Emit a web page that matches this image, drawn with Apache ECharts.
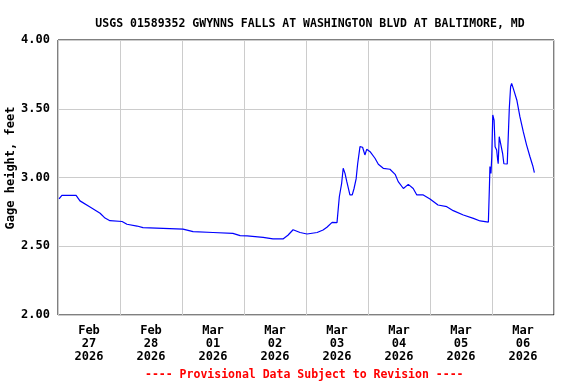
<!DOCTYPE html>
<html><head><meta charset="utf-8">
<script src="https://cdn.jsdelivr.net/npm/echarts@6/dist/echarts.min.js"></script>
<style>html,body{margin:0;padding:0;background:#fff}#c{width:576px;height:384px}</style>
</head><body><div id="c"></div>
<script>
// hours since Feb 27 2026 00:00
var hours = [0.4,1.5,7.0,8.5,12.4,16.3,18.2,20.1,24.8,26.7,30.6,32.9,48.4,52.3,60.0,67.7,70.5,73.2,79.4,83.2,87.1,89.0,91.0,93.7,96.4,100.3,102.6,104.1,106.1,108.0,108.2,108.9,109.8,110.4,111.1,111.8,113.0,113.9,114.6,115.4,116.0,116.9,117.9,118.8,119.5,120.8,122.7,124.0,125.9,128.5,130.5,131.7,133.7,135.6,137.5,138.9,141.4,144.0,147.1,150.5,153.0,156.9,160.8,163.4,166.6,167.0,167.2,167.6,167.9,168.3,168.8,169.2,169.8,170.2,170.4,170.8,171.4,172.1,172.6,173.9,174.3,174.7,175.2,175.6,176.2,177.6,178.8,180.1,181.4,182.7,183.8,184.4];
var gage = [2.844,2.87,2.87,2.83,2.785,2.74,2.705,2.686,2.68,2.66,2.647,2.635,2.625,2.606,2.60,2.594,2.577,2.575,2.565,2.553,2.553,2.58,2.62,2.60,2.589,2.60,2.618,2.638,2.674,2.672,2.66,2.86,2.958,3.067,3.03,2.97,2.873,2.873,2.92,2.99,3.10,3.224,3.22,3.164,3.205,3.188,3.14,3.096,3.067,3.06,3.023,2.97,2.92,2.95,2.92,2.873,2.873,2.844,2.80,2.788,2.759,2.727,2.703,2.684,2.676,2.933,3.079,3.03,3.147,3.455,3.418,3.224,3.20,3.127,3.10,3.297,3.285,3.176,3.10,3.098,3.108,3.503,3.66,3.685,3.65,3.564,3.442,3.333,3.236,3.151,3.084,3.035];
var dayLabels = ["Feb\n27\n2026","Feb\n28\n2026","Mar\n01\n2026","Mar\n02\n2026","Mar\n03\n2026","Mar\n04\n2026","Mar\n05\n2026","Mar\n06\n2026"];
var yTicks = [2.0,2.5,3.0,3.5,4.0];

var font = "'DejaVu Sans Mono', monospace";
var chart = echarts.init(document.getElementById('c'), null, {renderer:'canvas'});
var series = hours.map(function(h,i){return [h,gage[i]];});
chart.setOption({
  animation:false,
  backgroundColor:'#fff',
  title:{text:'USGS 01589352 GWYNNS FALLS AT WASHINGTON BLVD AT BALTIMORE, MD',left:305,top:13,textAlign:'center',
    textStyle:{fontFamily:font,fontWeight:'bold',fontSize:11.5,color:'#000'}},
  graphic:[
    {type:'text',left:145,top:369,style:{text:'---- Provisional Data Subject to Revision ----',
      fill:'#ff0000',font:"bold 11.5px 'DejaVu Sans Mono', monospace"}},
    {type:'text',x:11,y:168,rotation:Math.PI/2,style:{text:'Gage height, feet',align:'center',verticalAlign:'middle',
      fill:'#000',font:"bold 12px 'DejaVu Sans Mono', monospace"}}
  ],
  grid:{left:58,right:22,top:40,bottom:69,show:true,borderColor:'#000',borderWidth:1,outerBoundsMode:'none',containLabel:false},
  xAxis:[{type:'value',min:0,max:192,interval:24,
      axisLine:{show:false},axisTick:{show:false},axisLabel:{show:false},
      splitLine:{show:true,lineStyle:{color:'#cccccc',width:1}}},
    {type:'category',data:dayLabels,position:'bottom',boundaryGap:true,
      axisLine:{show:false},axisTick:{show:false},splitLine:{show:false},
      axisLabel:{margin:9,lineHeight:13,fontFamily:font,fontWeight:'bold',fontSize:12,color:'#000',interval:0}}],
  yAxis:{type:'value',min:yTicks[0],max:yTicks[yTicks.length-1],interval:0.5,
    axisLine:{show:false},axisTick:{show:false},
    axisLabel:{margin:8,fontFamily:font,fontWeight:'bold',fontSize:12,color:'#000',formatter:function(v){return v.toFixed(2);}},
    splitLine:{show:true,lineStyle:{color:'#cccccc',width:1}}},
  series:[{type:'line',xAxisIndex:0,data:series,showSymbol:false,symbol:'none',
    lineStyle:{color:'#0000ff',width:1.2},itemStyle:{color:'#0000ff'}}]
});
</script></body></html>
